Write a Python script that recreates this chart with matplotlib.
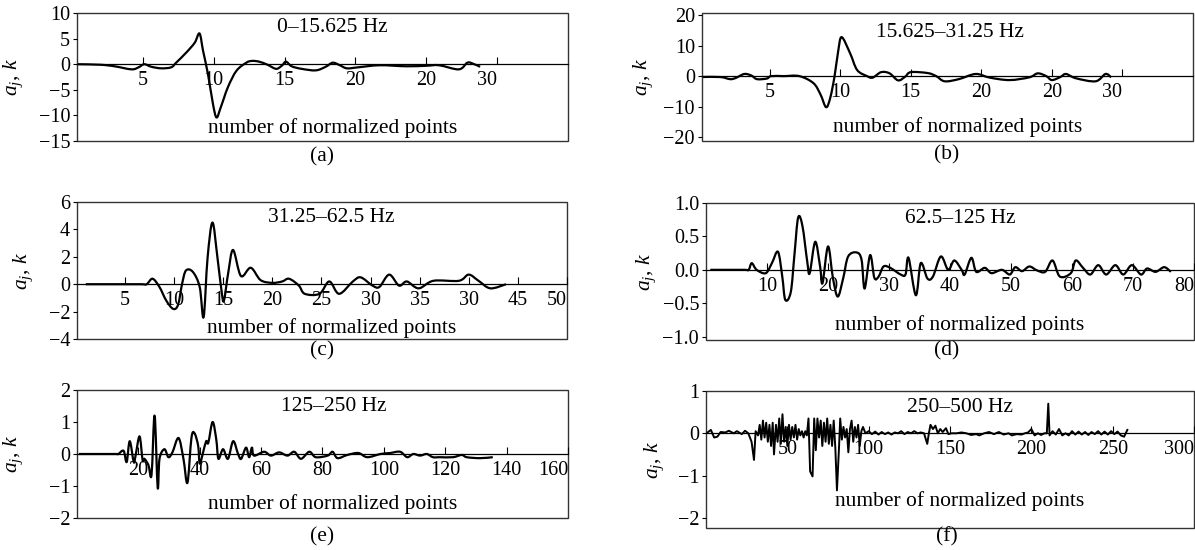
import matplotlib
matplotlib.use("Agg")
import matplotlib.pyplot as plt
from matplotlib.patches import Rectangle, PathPatch
from matplotlib.path import Path

plt.rcParams['font.family'] = ['Liberation Serif', 'DejaVu Serif']
plt.rcParams['mathtext.fontset'] = 'custom'
plt.rcParams['mathtext.rm'] = 'Liberation Serif'
plt.rcParams['mathtext.it'] = 'Liberation Serif:italic'
plt.rcParams['axes.unicode_minus'] = True

# Panel (a) 0-15.625 Hz
a_x = [0.4, 2.0, 3.0, 4.2, 4.7, 5.1, 5.6, 6.3, 7.0, 7.35, 8.07, 8.66, 9.0, 9.25, 9.6, 9.95,
       10.2, 10.5, 11.0, 11.6, 12.3, 12.7, 13.2, 13.8, 14.4, 14.8, 15.1, 15.5, 16.2, 17.2,
       17.9, 18.4, 18.9, 19.4, 20.2, 21.7, 23.6, 25.0, 25.9, 27.3, 27.9, 28.3, 28.8]
a_y = [0.0, -0.1, -0.4, -1.0, -0.6, 0.0, -0.5, -0.8, -0.6, 0.3, 2.3, 4.2, 6.0, 2.6, -2.0, -7.8,
       -10.4, -8.4, -4.5, -1.3, 0.3, 0.65, 0.5, -0.1, -0.9, -0.3, 0.5, -0.4, -0.9, -1.2,
       -0.5, 0.3, -0.2, -0.8, -0.6, -0.2, -0.4, -0.3, -0.2, -1.0, 0.3, 0.1, -0.5]

# Panel (b) 15.625-31.25 Hz
b_x = [0.2, 1.5, 2.2, 2.6, 3.2, 3.7, 4.1, 4.8, 5.1, 6.0, 7.1, 8.1, 8.6, 9.0, 9.3, 9.6, 9.85, 10.1,
       10.7, 11.2, 11.9, 12.3, 12.9, 13.5, 14.1, 14.6, 15.0, 16.2, 16.8, 17.4, 18.4, 19.6,
       20.6, 22.0, 23.4, 24.0, 24.6, 25.0, 25.6, 26.0, 26.7, 28.1, 28.8, 29.2]
b_y = [-0.3, -0.3, -1.0, -0.6, 0.7, 0.2, -1.0, -0.8, 0.0, 0.0, 0.0, -2.3, -6.0, -10.2, -7.0, 0.0, 8.0, 12.8,
       7.5, 2.0, 0.0, -0.5, 1.3, 0.9, -1.4, -0.2, 1.3, 1.0, 0.0, -1.7, -1.0, 0.7,
       -0.5, -1.3, -0.4, 0.9, 0.0, -1.3, -0.3, 0.7, -0.7, -1.7, 0.7, -0.4]

# Panel (c) 31.25-62.5 Hz
c_x = [1.0, 4.0, 6.6, 7.2, 7.8, 8.5, 9.2, 9.9, 10.4, 10.8, 11.2, 11.9, 12.6, 13.0, 13.4, 13.9, 14.4, 14.9,
       15.1, 15.5, 16.0, 16.8, 17.8, 18.8, 20.0, 21.0, 21.7, 22.7, 23.3, 24.8, 25.8, 26.8, 28.2,
       29.0, 30.2, 30.9, 31.9, 32.9, 33.7, 34.9, 36.4, 39.0, 40.0, 41.0, 42.2, 43.8]
c_y = [0.0, 0.0, 0.0, 0.0, 0.4, -0.2, -1.2, -1.8, -1.5, 0.0, 1.0, 0.9, -0.2, -2.4, 1.9, 4.5, 2.0, -0.9,
       -1.1, 0.8, 2.5, 0.6, 1.2, 0.3, 0.1, 0.2, 0.4, -0.1, -0.7, -0.7, 0.2, -0.7, 0.2,
       0.5, -0.1, -0.2, 0.7, -0.1, 0.2, -0.3, 0.25, 0.25, 0.7, 0.25, -0.3, 0.0]

# Panel (d) 62.5-125 Hz
d_x = [0.7, 4.0, 6.4, 7.0, 7.5, 8.3, 9.8, 10.8, 11.8, 12.5, 13.0, 13.9, 14.5, 15.1, 15.8, 16.6, 17.0, 17.9,
       18.7, 19.1, 20.0, 20.8, 21.6, 22.5, 23.3, 24.7, 25.5, 26.0, 26.9, 27.6, 28.3, 29.1, 30.2,
       31.9, 32.7, 33.2, 34.4, 35.2, 36.3, 37.2, 38.5, 39.7, 40.7, 41.9, 42.4, 43.5, 44.3, 45.7,
       46.8, 48.5, 49.8, 50.7, 51.8, 53.0, 54.3, 55.6, 56.8, 58.0, 59.8, 60.6, 61.8, 63.0, 64.3,
       65.6, 67.1, 68.4, 69.8, 71.3, 72.3, 73.7, 75.1, 76.2]
d_y = [0.0, 0.0, 0.0, 0.0, 0.1, 0.0, -0.05, 0.1, 0.27, -0.1, -0.45, -0.33, 0.23, 0.78, 0.66, 0.12, -0.05, 0.42,
       0.05, -0.2, 0.35, -0.12, -0.4, -0.12, 0.2, 0.26, 0.15, -0.28, 0.22, -0.12, -0.1, 0.05, 0.03,
       -0.07, -0.07, 0.18, -0.38, 0.1, -0.13, -0.1, 0.2, 0.0, 0.14, 0.0, -0.07, 0.18, -0.03, 0.03,
       -0.05, 0.0, -0.07, 0.04, -0.02, 0.05, -0.01, -0.03, 0.14, -0.1, -0.05, 0.14, 0.03, -0.07, 0.07,
       -0.07, 0.07, -0.07, 0.07, -0.07, 0.02, -0.03, 0.04, -0.03]

# Panel (e) 125-250 Hz
e_x = [0.6, 7.0, 12.8, 13.5, 15.2, 16.2, 17.2, 18.5, 19.1, 20.4, 21.4, 22.0, 23.3, 24.3, 25.3, 26.3, 26.9,
       28.5, 29.8, 31.1, 33.1, 34.7, 36.0, 37.3, 38.3, 39.5, 40.0, 41.1, 42.1, 42.8, 44.2, 45.4,
       46.1, 47.6, 49.2, 50.9, 52.5, 53.5, 55.1, 56.1, 57.0, 57.7, 61.0, 63.2, 65.9, 68.6, 70.8,
       73.0, 75.7, 77.8, 81.7, 83.3, 84.9, 88.1, 91.7, 94.6, 98.9, 102.0, 105.3, 107.6, 109.6,
       111.8, 114.0, 116.0, 118.3, 122.5, 125.4, 127.0, 131.3, 135.5]
e_y = [0.0, 0.0, 0.0, 0.0, 0.1, -0.25, 0.4, -0.25, -0.05, 0.55, -0.2, -0.15, -0.35, -0.65, 1.2, -1.05, -0.15,
       0.15, -0.1, 0.05, 0.5, -0.15, -0.9, 0.5, 0.65, 0.25, -0.3, 0.05, 0.4, 0.35, 1.0, 0.45,
       -0.15, 0.15, -0.15, 0.4, 0.0, -0.15, 0.2, -0.1, 0.2, -0.05, 0.07, -0.05, 0.05, -0.05, 0.07,
       -0.15, 0.07, -0.1, -0.05, 0.07, -0.13, -0.03, 0.03, -0.1, 0.0, 0.03, 0.07, -0.1, 0.0,
       -0.05, 0.0, -0.1, -0.1, -0.1, -0.03, -0.1, -0.13, -0.1]

# Panel (f) 250-500 Hz
f_x = [1, 3, 5, 7, 9, 12, 14, 17, 19, 22, 24, 26, 28, 29.5, 30.5, 32, 33, 34, 35, 36, 37, 38, 39,
       40, 41, 41.8, 43, 44, 45, 46, 47, 48, 49, 50, 51, 52, 53, 54, 55, 56, 57, 58, 59, 60, 61,
       62, 63, 64, 65.5, 66.5, 67.5, 68.5, 69.5, 70.5, 71.5, 72.5, 73.5, 74.5, 75.5, 76.5, 77.5,
       78.5, 79.5, 80.5, 81.2, 81.8, 82.5, 83.5, 84.5, 85.5, 86.5, 87.5, 88.5, 89.5, 90.5, 91.5,
       92.5, 93.5, 94.5, 95.5, 96.5, 98, 100, 102, 104, 106, 108, 110, 112, 114, 116, 118, 120,
       122, 124, 126, 128, 130, 132, 134, 136, 137, 138, 139.5, 141, 142.5, 144, 145.5, 147.5,
       149, 151, 154, 157, 160, 163, 166, 168, 171, 174, 177, 180, 183, 186, 188, 191, 194, 196,
       198, 200, 202, 204, 206, 208, 209.5, 210.4, 211.2, 213, 215, 217, 219, 221, 223, 225, 227,
       229, 231, 233, 235, 237, 239, 241, 243, 245, 247, 249, 251, 253, 255, 257, 259]
f_y = [0.02, 0.08, -0.1, -0.08, 0.03, 0.02, 0.06, 0.0, 0.05, -0.02, 0.06, 0.0, -0.2, -0.63, 0.05,
       -0.05, 0.2, -0.15, 0.3, -0.1, 0.25, -0.2, 0.2, -0.3, 0.25, -0.5, 0.2, -0.2, 0.35, -0.25,
       0.45, -0.2, 0.15, -0.3, 0.2, -0.15, 0.15, -0.1, 0.2, -0.15, 0.1, -0.05, 0.05, -0.1, 0.05,
       -0.05, 0.35, -0.9, -1.02, 0.35, -0.4, 0.35, -0.1, 0.3, -0.3, 0.25, -0.2, 0.35, -0.25, 0.2,
       -0.3, 0.3, -0.35, -1.35, -0.8, -0.3, 0.35, -0.15, 0.15, -0.1, 0.1, -0.45, 0.1, 0.3, -0.2,
       0.15, -0.1, 0.2, -0.3, 0.05, 0.15, 0.0, 0.05, -0.02, 0.04, -0.03, 0.03, -0.02, 0.02, -0.03,
       0.02, 0.0, 0.05, -0.02, 0.03, 0.0, 0.05, 0.0, 0.02, 0.0, -0.25, 0.0, 0.2, 0.1, 0.18, 0.0,
       0.1, 0.03, 0.12, -0.02, 0.0, 0.0, 0.02, 0.0, -0.04, -0.02, -0.05, 0.0, 0.03, -0.02, 0.03,
       -0.03, 0.0, -0.05, -0.02, -0.03, 0.0, 0.02, 0.1, -0.05, 0.0, -0.04, 0.0, 0.0, 0.7, -0.05,
       0.05, -0.03, 0.1, -0.05, 0.0, -0.05, 0.05, -0.03, 0.04, -0.03, 0.03, -0.04, 0.03, -0.02,
       0.05, -0.03, 0.04, -0.03, 0.05, -0.02, 0.04, -0.05, -0.08, 0.08]

band_labels = ["0\u201315.625 Hz", "15.625\u201331.25 Hz", "31.25\u201362.5 Hz",
               "62.5\u2013125 Hz", "125\u2013250 Hz", "250\u2013500 Hz"]
panel_tags = ["(a)", "(b)", "(c)", "(d)", "(e)", "(f)"]

a_ticks = [5, 10, 15, 20, 25, 30]
a_ticklabels = ["5", "10", "15", "20", "20", "30"]
c_ticks = [5, 10, 15, 20, 25, 30, 35, 40, 45, 50]
c_ticklabels = ["5", "10", "15", "20", "25", "30", "35", "30", "45", "50"]
d_ticks = [10, 20, 30, 40, 50, 60, 70, 80]
e_ticks = [20, 40, 60, 80, 100, 120, 140, 160]
f_ticks = [50, 100, 150, 200, 250, 300]

a_yticks = [-15, -10, -5, 0, 5, 10]
b_yticks = [-20, -10, 0, 10, 20]
c_yticks = [-4, -2, 0, 2, 4, 6]
d_yticks = [-1.0, -0.5, 0.0, 0.5, 1.0]
e_yticks = [-2, -1, 0, 1, 2]
f_yticks = [-2, -1, 0, 1]


def smooth_line(ax, xs, ys, **kw):
    # draw a smooth curve through the read points (Catmull-Rom as cubic Beziers)
    n = len(xs)
    verts = [(xs[0], ys[0])]
    codes = [Path.MOVETO]
    for k in range(n - 1):
        x0, y0 = (xs[k - 1], ys[k - 1]) if k > 0 else (xs[k], ys[k])
        x1, y1 = xs[k], ys[k]
        x2, y2 = xs[k + 1], ys[k + 1]
        x3, y3 = (xs[k + 2], ys[k + 2]) if k + 2 < n else (x2, y2)
        verts += [(x1 + (x2 - x0) / 6, y1 + (y2 - y0) / 6),
                  (x2 - (x3 - x1) / 6, y2 - (y3 - y1) / 6),
                  (x2, y2)]
        codes += [Path.CURVE4] * 3
    ax.add_patch(PathPatch(Path(verts, codes), fill=False, **kw))


panels = [
    # x, y, axes rect, xlim, ylim, xticks, xticklabels, yticks, ylabel x, band text pos, xlabel y
    (a_x, a_y, [0.0644, 0.7436, 0.4109, 0.2327], (0.35, 35), (-15, 10), a_ticks, a_ticklabels,
     a_yticks, -0.106, (0.52, 0.89), 0.10),
    (b_x, b_y, [0.5874, 0.7436, 0.4109, 0.2327], (0.2, 35), (-21.3, 20.7), a_ticks, a_ticklabels,
     b_yticks, -0.096, (0.505, 0.85), 0.11),
    (c_x, c_y, [0.0644, 0.3836, 0.4100, 0.2491], (0.1, 50), (-4, 6), c_ticks, c_ticklabels,
     c_yticks, -0.085, (0.52, 0.89), 0.08),
    (d_x, d_y, [0.5908, 0.3818, 0.4084, 0.2491], (0, 80), (-1.05, 1.0), d_ticks,
     [str(t) for t in d_ticks], d_yticks, -0.098, (0.52, 0.89), 0.11),
    (e_x, e_y, [0.0644, 0.0582, 0.4109, 0.2327], (0, 160), (-2, 2), e_ticks,
     [str(t) for t in e_ticks], e_yticks, -0.106, (0.523, 0.87), 0.11),
    (f_x, f_y, [0.5908, 0.04, 0.4084, 0.2491], (0, 298), (-2.24, 1), f_ticks,
     [str(t) for t in f_ticks], f_yticks, -0.082, (0.52, 0.876), 0.2),
]
tag_pos = [(322, 157), (947, 155), (322, 351), (947, 351), (322, 537), (947, 537)]

fig = plt.figure(figsize=(11.95, 5.5), dpi=100)
fs = 14.5

for i, (xs, ys, rect, xlim, ylim, xt, xtl, yt, ylx, bpos, xly) in enumerate(panels):
    ax = fig.add_axes(rect)
    if i < 5:
        smooth_line(ax, xs, ys, edgecolor='black', lw=1.6, joinstyle='round')
    else:
        ax.plot(xs, ys, color='black', lw=1.4)
    ax.set_xlim(*xlim)
    ax.set_ylim(*ylim)

    # x axis sits on the zero line, frame drawn separately
    ax.spines['bottom'].set_position(('data', 0))
    ax.spines['bottom'].set_linewidth(0.9)
    for s in ['top', 'right', 'left']:
        ax.spines[s].set_visible(False)
    ax.add_patch(Rectangle((0, 0), 1, 1, transform=ax.transAxes, fill=False,
                           lw=1.0, edgecolor='#333333', clip_on=False))

    ax.set_xticks(xt)
    ax.set_xticklabels(xtl)
    ax.get_xticklabels()[-1].set_horizontalalignment('right')
    ax.tick_params(axis='x', direction='in', length=5, width=0.8, pad=5, labelsize=fs)

    ax.set_yticks(yt)
    if i == 3:
        ax.set_yticklabels([f"{v:.1f}".replace('-', '\u2212') for v in yt])
    ax.tick_params(axis='y', direction='out', length=3, width=0.8, pad=2, labelsize=fs)

    ax.set_ylabel(r'$a_j,\, k$', fontsize=fs + 1)
    ax.yaxis.set_label_coords(ylx, 0.5)

    ax.text(bpos[0], bpos[1], band_labels[i], transform=ax.transAxes,
            ha='center', va='center', fontsize=fs + 1)
    ax.text(0.52, xly, "number of normalized points", transform=ax.transAxes,
            ha='center', va='center', fontsize=fs + 1)

    fig.text(tag_pos[i][0] / 1195, 1 - tag_pos[i][1] / 550, panel_tags[i],
             ha='center', va='center', fontsize=fs + 1)

fig.savefig("out.png", dpi=100)
